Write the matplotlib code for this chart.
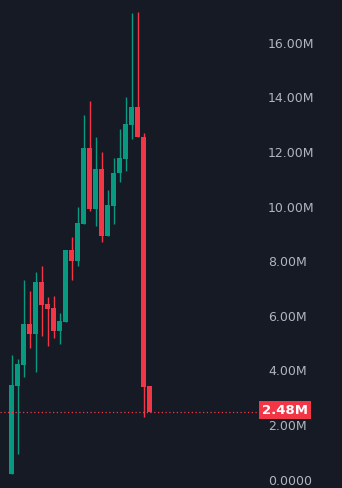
import numpy as np
from matplotlib import pyplot as plt
from matplotlib import transforms

# candle values, millions
opens = [0.22, 3.44, 4.21, 5.71, 5.35, 7.25, 6.45, 6.30, 5.46, 5.79, 8.42, 8.02,
         9.38, 12.16, 9.93, 11.39, 8.94, 10.04, 11.25, 11.76, 13.00, 13.66, 12.56, 3.44]
closes = [3.48, 4.25, 5.71, 5.35, 7.25, 6.41, 6.26, 5.46, 5.82, 8.42, 8.02, 9.41,
          12.16, 9.93, 11.39, 8.94, 10.07, 11.25, 11.79, 13.04, 13.66, 12.56, 3.41, 2.48]
highs = [4.58, 4.43, 7.33, 6.92, 7.62, 7.84, 6.70, 6.74, 6.12, 8.42, 8.90, 10.00,
         13.37, 13.88, 12.56, 12.01, 10.62, 11.79, 12.86, 14.03, 17.10, 17.14, 12.71, 3.46]
lows = [0.22, 0.95, 3.77, 4.84, 3.96, 5.27, 4.91, 5.20, 4.98, 5.79, 7.33, 7.84,
        9.38, 9.85, 9.30, 8.72, 8.94, 9.38, 10.92, 11.32, 12.49, 12.56, 2.31, 2.48]
last_price = 2.48
tick_vals = [0, 2, 4, 6, 8, 10, 12, 14, 16]
tick_labels = ["0.0000", "2.00M", "4.00M", "6.00M", "8.00M", "10.00M", "12.00M", "14.00M", "16.00M"]

bg = "#161a25"
up = "#089981"
down = "#f23645"

fig = plt.figure(figsize=(3.42, 4.89), dpi=100, facecolor=bg)
ax = fig.add_axes([0, 0, 1, 1])
ax.set_facecolor(bg)

o = np.array(opens)
c = np.array(closes)
h = np.array(highs)
l = np.array(lows)
x = np.arange(len(o))
colors = [up if cc >= oo else down for oo, cc in zip(o, c)]

ax.vlines(x, l, h, colors=colors, linewidth=1)
ax.bar(x, np.maximum(np.abs(c - o), 0.05), bottom=np.minimum(o, c),
       width=0.83, color=colors, linewidth=0)

ax.set_xlim(-1.92, 55.08)
ax.set_ylim(-0.29, 17.62)
ax.axis("off")

# price line, only across the plot pane
ax.axhline(last_price, xmin=0, xmax=258 / 342, color=down, linewidth=0.9,
           linestyle=(0, (1, 2)))

tr = transforms.blended_transform_factory(ax.transAxes, ax.transData)
for v, s in zip(tick_vals, tick_labels):
    ax.text(268 / 342, v, s, transform=tr, color="#b2b5be", fontsize=9,
            ha="left", va="center")

ax.text(262 / 342, last_price + 0.1, "2.48M", transform=tr, color="white",
        fontsize=9.5, fontweight="bold", ha="left", va="center", zorder=5,
        bbox=dict(boxstyle="square,pad=0.2", facecolor=down, edgecolor="none"))

fig.savefig("out.png", dpi=100, facecolor=bg)
